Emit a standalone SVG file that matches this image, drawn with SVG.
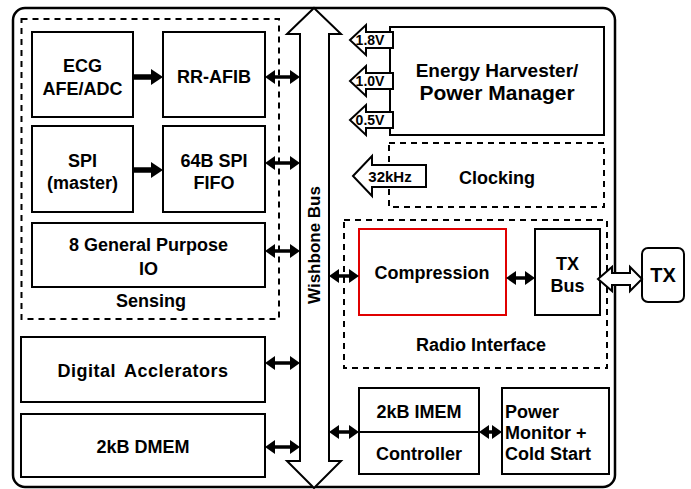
<svg xmlns="http://www.w3.org/2000/svg" width="691" height="489" viewBox="0 0 691 489">
<style>
  text { font-family: "Liberation Sans", Arial, sans-serif; font-weight: bold; fill: #000; }
  .t18 { font-size: 18px; text-anchor: middle; }
  .t20 { font-size: 20px; text-anchor: middle; }
  .box { fill: #fff; stroke: #000; stroke-width: 2; }
  .red { fill: #fff; stroke: #e00000; stroke-width: 2; }
  .dash { fill: none; stroke: #000; stroke-width: 2; stroke-dasharray: 6 5; }
  .blk { fill: #fff; stroke: #000; stroke-width: 2; stroke-linejoin: miter; }
  .dbl { stroke: #000; stroke-width: 3.5; fill: none; marker-start: url(#ah); marker-end: url(#ah); }
  .one { stroke: #000; stroke-width: 5.5; fill: none; marker-end: url(#ahb); }
</style>
<defs>
  <marker id="ah" markerUnits="userSpaceOnUse" markerWidth="10" markerHeight="14" refX="4" refY="7" orient="auto-start-reverse">
    <path d="M0,0 L10,7 L0,14 z" fill="#000"/>
  </marker>
  <marker id="ahb" markerUnits="userSpaceOnUse" markerWidth="12" markerHeight="16" refX="5" refY="8" orient="auto">
    <path d="M0,0 L12,8 L0,16 z" fill="#000"/>
  </marker>
</defs>

<rect id="frame" x="13" y="8" width="602" height="479" rx="12" fill="none" stroke="#000" stroke-width="2.5"/>

<g id="sensing">
  <rect x="21.5" y="19" width="257.5" height="300" class="dash"/>
  <text class="t18" x="151" y="306.5">Sensing</text>
</g>
<g id="ecg">
  <rect x="32" y="32" width="101" height="85" class="box"/>
  <text class="t18" x="82.5" y="71.5">ECG</text>
  <text class="t18" x="82.5" y="94.5">AFE/ADC</text>
</g>
<g id="rrafib">
  <rect x="163" y="32" width="102" height="85" class="box"/>
  <text class="t18" x="214" y="82.5">RR-AFIB</text>
</g>
<g id="spi">
  <rect x="32" y="126" width="101" height="86" class="box"/>
  <text class="t18" x="82.5" y="166.5">SPI</text>
  <text class="t18" x="82.5" y="188.5">(master)</text>
</g>
<g id="fifo">
  <rect x="163" y="126" width="102" height="86" class="box"/>
  <text class="t18" x="214" y="166.5">64B SPI</text>
  <text class="t18" x="214" y="188.5">FIFO</text>
</g>
<g id="gpio">
  <rect x="32" y="223" width="233" height="64" class="box"/>
  <text class="t18" x="148.5" y="251">8 General Purpose</text>
  <text class="t18" x="148.5" y="274.5">IO</text>
</g>
<g id="digacc">
  <rect x="21" y="337" width="244" height="65" class="box"/>
  <text class="t18" x="143" y="376.5" word-spacing="3" letter-spacing="0.5">Digital Acclerators</text>
</g>
<g id="dmem">
  <rect x="21" y="414" width="244" height="63" class="box"/>
  <text class="t18" x="143" y="452.5">2kB DMEM</text>
</g>

<g id="wishbone">
  <polygon class="blk" points="314,8 341,34 329,34 329,461 341,461 314,488 287,461 300,461 300,34 287,34"/>
  <text x="314" y="251" font-size="17" text-anchor="middle" transform="rotate(-90 314 245)">Wishbone Bus</text>
</g>

<g id="energy">
  <rect x="390" y="27" width="214" height="108" class="box"/>
  <text x="497" y="76.5" font-size="19" text-anchor="middle">Energy Harvester/</text>
  <text x="497" y="99.5" font-size="21" text-anchor="middle">Power Manager</text>
  <polygon class="blk" points="350,40 366,25 366,32 393,32 393,48 366,48 366,55"/>
  <text x="370" y="45" font-size="14" text-anchor="middle">1.8V</text>
  <polygon class="blk" points="350,81 366,66 366,73 393,73 393,89 366,89 366,96"/>
  <text x="370" y="86" font-size="14" text-anchor="middle">1.0V</text>
  <polygon class="blk" points="350,120 366,105 366,112 393,112 393,128 366,128 366,135"/>
  <text x="370" y="125" font-size="14" text-anchor="middle">0.5V</text>
</g>

<g id="clocking">
  <rect x="389" y="143" width="215" height="64" class="dash"/>
  <text class="t18" x="497" y="183.5">Clocking</text>
  <polygon class="blk" points="353,176 372,156 372,165 426,165 426,187 372,187 372,196"/>
  <text x="390" y="181.5" font-size="15" text-anchor="middle">32kHz</text>
</g>

<g id="radio">
  <rect x="344" y="220" width="263" height="148" class="dash"/>
  <text class="t18" x="481" y="350.5">Radio Interface</text>
</g>
<g id="compression">
  <rect x="359" y="229" width="147" height="86" class="red"/>
  <text class="t18" x="432" y="278.5">Compression</text>
</g>
<g id="txbus">
  <rect x="535" y="229" width="65" height="86" class="box"/>
  <text class="t18" x="567.5" y="269.5">TX</text>
  <text class="t18" x="567.5" y="291.5">Bus</text>
</g>

<g id="imem">
  <rect x="359" y="388" width="120" height="86" class="box"/>
  <line x1="359" y1="432" x2="479" y2="432" stroke="#000" stroke-width="2"/>
  <text class="t18" x="419" y="417.5">2kB IMEM</text>
  <text class="t18" x="419" y="459.5">Controller</text>
</g>
<g id="power">
  <rect x="502" y="388" width="107" height="86" class="box"/>
  <text x="505" y="418" font-size="18">Power</text>
  <text x="505" y="439" font-size="18">Monitor +</text>
  <text x="505" y="460" font-size="18">Cold Start</text>
</g>

<g id="tx">
  <rect x="642" y="248" width="42" height="54" rx="6" class="box"/>
  <text class="t20" x="663" y="282">TX</text>
</g>

<g id="connectors">
  <line class="one" x1="133" y1="77" x2="156" y2="77"/>
  <line class="one" x1="133" y1="170" x2="156" y2="170"/>
  <line class="dbl" x1="271" y1="77" x2="294" y2="77"/>
  <line class="dbl" x1="271" y1="163" x2="294" y2="163"/>
  <line class="dbl" x1="271" y1="251" x2="294" y2="251"/>
  <line class="dbl" x1="271" y1="363" x2="294" y2="363"/>
  <line class="dbl" x1="271" y1="447" x2="294" y2="447"/>
  <line class="dbl" x1="335" y1="276" x2="353" y2="276"/>
  <line class="dbl" x1="512" y1="278" x2="529" y2="278"/>
  <line class="dbl" x1="335" y1="432" x2="353" y2="432"/>
  <line class="dbl" x1="485" y1="432" x2="496" y2="432"/>
  <polygon class="blk" points="598,279 612,267 612,273 630,273 630,267 642,279 630,291 630,285 612,285 612,291"/>
</g>
</svg>
